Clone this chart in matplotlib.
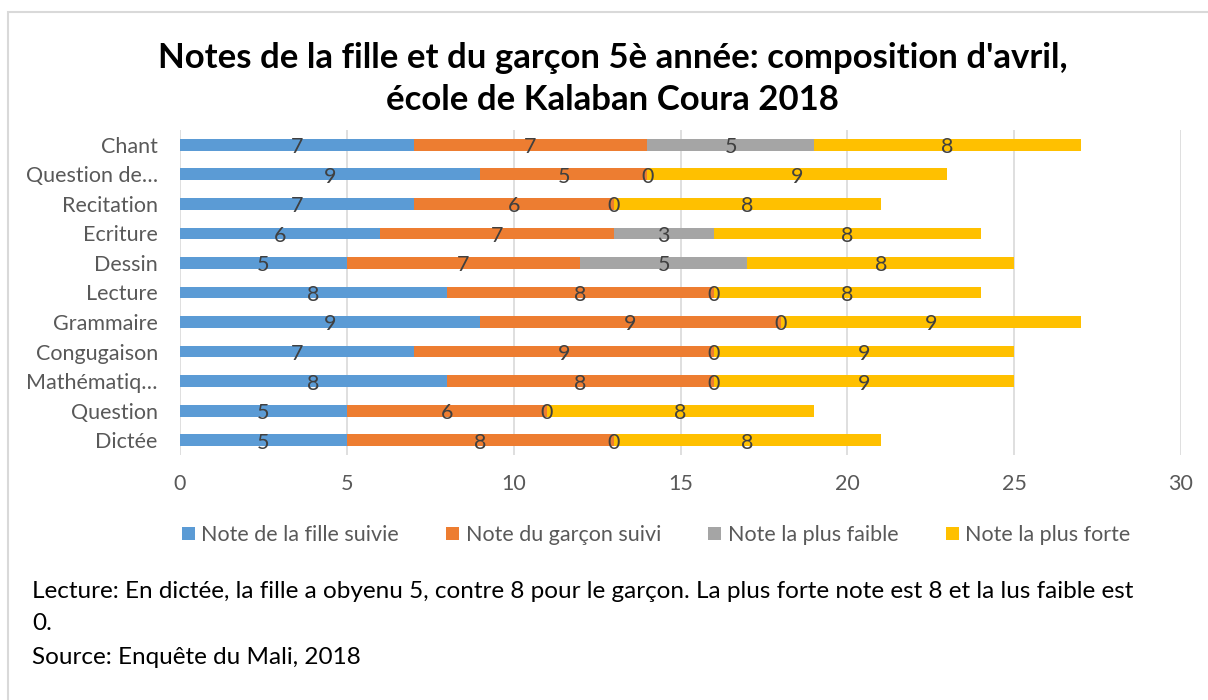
import numpy as np
import matplotlib.pyplot as plt

categories = ["Chant", "Question de…", "Recitation", "Ecriture", "Dessin", "Lecture",
              "Grammaire", "Congugaison", "Mathématiq…", "Question", "Dictée"]
fille = [7, 9, 7, 6, 5, 8, 9, 7, 8, 5, 5]
garcon = [7, 5, 6, 7, 7, 8, 9, 9, 8, 6, 8]
faible = [5, 0, 0, 3, 5, 0, 0, 0, 0, 0, 0]
forte = [8, 9, 8, 8, 8, 8, 9, 9, 9, 8, 8]
series_names = ["Note de la fille suivie", "Note du garçon suivi",
                "Note la plus faible", "Note la plus forte"]
colors = ["#5B9BD5", "#ED7D31", "#A5A5A5", "#FFC000"]
x_ticks = [0, 5, 10, 15, 20, 25, 30]

plt.rcParams['font.family'] = ['Lato', 'DejaVu Sans']

fig = plt.figure(figsize=(12.08, 7), dpi=100)
ax = fig.add_axes([180 / 1208, 1 - 455 / 700, 1001 / 1208, 325 / 700])

y = np.arange(len(categories))
left = np.zeros(len(categories))
for vals, name, col in zip([fille, garcon, faible, forte], series_names, colors):
    vals = np.array(vals)
    ax.barh(y, vals, left=left, height=0.4, color=col, label=name, zorder=2)
    for yi, l, v in zip(y, left, vals):
        ax.text(l + v / 2, yi + 0.08, str(v), ha='center', va='center',
                fontsize=15.5, color='#404040', zorder=3)
    left = left + vals

ax.set_ylim(len(categories) - 0.5, -0.5)
ax.set_xlim(0, 30)
ax.set_xticks(x_ticks)
ax.set_yticks(y)
ax.set_yticklabels(categories)
ax.tick_params(length=0, labelsize=15.5, labelcolor='#595959')
ax.tick_params(axis='x', pad=14)
ax.tick_params(axis='y', pad=16)
ax.grid(axis='x', color='#D9D9D9', lw=1.2, zorder=0)
for s in ax.spines.values():
    s.set_visible(False)

fig.text(0.507, 1 - 58 / 700, "Notes de la fille et du garçon 5è année: composition d'avril,",
         ha='center', va='center', fontsize=25, fontweight='bold', color='black')
fig.text(0.507, 1 - 100 / 700, "école de Kalaban Coura 2018",
         ha='center', va='center', fontsize=25, fontweight='bold', color='black')

handles, labels = ax.get_legend_handles_labels()
fig.legend(handles, labels, loc='center', bbox_to_anchor=(0.543, 1 - 535 / 700), ncol=4,
           frameon=False, fontsize=15.5, labelcolor='#595959', handlelength=0.6,
           handleheight=0.6, handletextpad=0.3, columnspacing=2.2)

fig.text(32 / 1208, 1 - 591 / 700,
         "Lecture: En dictée, la fille a obyenu 5, contre 8 pour le garçon. La plus forte note est 8 et la lus faible est",
         ha='left', va='center', fontsize=17.5, color='black')
fig.text(32 / 1208, 1 - 624 / 700, "0.", ha='left', va='center', fontsize=17.5, color='black')
fig.text(32 / 1208, 1 - 657 / 700, "Source: Enquête du Mali, 2018",
         ha='left', va='center', fontsize=17.5, color='black')

border = plt.Rectangle((8 / 1208, -0.1), 1.2, 1.1 - 12 / 700, transform=fig.transFigure,
                       fill=False, edgecolor='#D9D9D9', lw=1.5, clip_on=False)
fig.patches.append(border)

fig.savefig("out.png", dpi=100, facecolor='white')
